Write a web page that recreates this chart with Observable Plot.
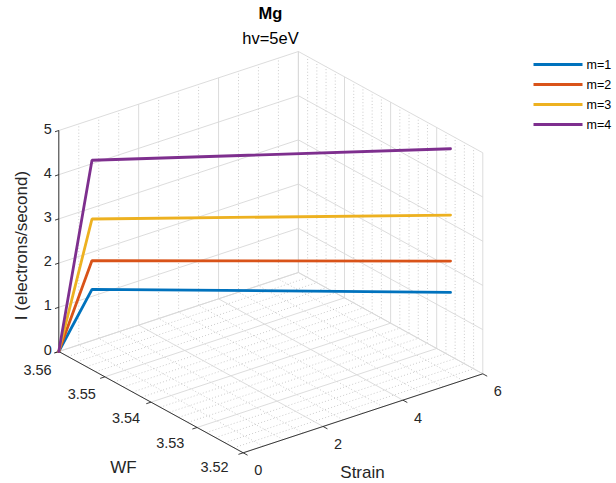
<!DOCTYPE html>
<html><head><meta charset="utf-8">
<script src="https://cdn.jsdelivr.net/npm/d3@7"></script>
<script src="https://cdn.jsdelivr.net/npm/@observablehq/plot@0.6"></script>
<style>html,body{margin:0;padding:0;background:#fff;}</style>
</head><body><div id="chart"></div>
<script>
// ---- data ----
const title = "Mg";
const subtitle = "hv=5eV";
const series = ["m=1", "m=2", "m=3", "m=4"];
const colors = ["#0072BD", "#D95319", "#EDB120", "#7E2F8E"];
const strain = [0, 0, 6];
const wf = [3.56, 3.5528, 3.527];
const I_m1 = [0, 1.82, 1.44];
const I_m2 = [0, 2.47, 2.15];
const I_m3 = [0, 3.41, 3.19];
const I_m4 = [0, 4.74, 4.69];
const strainTicks = [0, 2, 4, 6];
const strainTickLabels = ["0", "2", "4", "6"];
const wfTicks = [3.52, 3.53, 3.54, 3.55, 3.56];
const wfTickLabels = ["3.52", "3.53", "3.54", "3.55", "3.56"];
const iTicks = [0, 1, 2, 3, 4, 5];
const iTickLabels = ["0", "1", "2", "3", "4", "5"];
const xLabel = "Strain", yLabel = "WF", zLabel = "I (electrons/second)";
const strainDomain = [0, 6], wfDomain = [3.52, 3.56], iDomain = [0, 5];
const strainMinorStep = 0.5, wfMinorStep = 0.002;

// ---- 3D view (orthographic projection) ----
const origin = [58.3, 351];      // screen point of (strain min, WF max, I min)
const vS = [239.6, -79];         // full strain range
const vW = [184.4, 101.3];       // full WF range, from max toward min
const vI = [0, -221];            // full I range
const fs = d3.scaleLinear(strainDomain, [0, 1]);
const fw = d3.scaleLinear([wfDomain[1], wfDomain[0]], [0, 1]);
const fi = d3.scaleLinear(iDomain, [0, 1]);
function P(s, w, i) {
  const a = fs(s), b = fw(w), c = fi(i);
  return [origin[0] + a * vS[0] + b * vW[0] + c * vI[0],
          origin[1] + a * vS[1] + b * vW[1] + c * vI[1]];
}
function seg(p, q, extra = {}) { return {x1: p[0], y1: p[1], x2: q[0], y2: q[1], ...extra}; }
const unit = v => { const l = Math.hypot(v[0], v[1]); return [v[0] / l, v[1] / l]; };

const [s0, s1] = strainDomain, [w0, w1] = wfDomain, [i0, i1] = iDomain;
const near = (a, arr) => arr.some(t => Math.abs(t - a) < 1e-9);
const sMinor = d3.range(s0, s1 + 1e-9, strainMinorStep).filter(v => !near(v, strainTicks));
const wMinor = d3.range(0, Math.round((w1 - w0) / wfMinorStep) + 1).map(k => +(w0 + k * wfMinorStep).toFixed(4)).filter(v => !near(v, wfTicks));

const majorGrid = [], minorGrid = [];
// floor
strainTicks.forEach(s => majorGrid.push(seg(P(s, w0, i0), P(s, w1, i0))));
wfTicks.forEach(w => majorGrid.push(seg(P(s0, w, i0), P(s1, w, i0))));
sMinor.forEach(s => minorGrid.push(seg(P(s, w0, i0), P(s, w1, i0))));
wMinor.forEach(w => minorGrid.push(seg(P(s0, w, i0), P(s1, w, i0))));
// back-left wall (WF = max)
strainTicks.forEach(s => majorGrid.push(seg(P(s, w1, i0), P(s, w1, i1))));
sMinor.forEach(s => minorGrid.push(seg(P(s, w1, i0), P(s, w1, i1))));
iTicks.forEach(i => majorGrid.push(seg(P(s0, w1, i), P(s1, w1, i))));
// back-right wall (strain = max)
wfTicks.forEach(w => majorGrid.push(seg(P(s1, w, i0), P(s1, w, i1))));
wMinor.forEach(w => minorGrid.push(seg(P(s1, w, i0), P(s1, w, i1))));
iTicks.forEach(i => majorGrid.push(seg(P(s1, w0, i), P(s1, w1, i))));

// axes + ticks
const axes = [
  seg(P(s0, w1, i0), P(s0, w1, i1)),
  seg(P(s0, w0, i0), P(s0, w1, i0)),
  seg(P(s0, w0, i0), P(s1, w0, i0))
];
const tl = 5;
const dOutS = unit(vW);                      // strain ticks point toward viewer
const dOutW = unit([-vS[0], -vS[1]]);        // WF ticks point left
const dOutI = unit([-vS[0], -vS[1]]);
strainTicks.forEach(s => { const p = P(s, w0, i0); axes.push(seg(p, [p[0] + dOutS[0] * tl, p[1] + dOutS[1] * tl])); });
wfTicks.forEach(w => { const p = P(s0, w, i0); axes.push(seg(p, [p[0] + dOutW[0] * tl, p[1] + dOutW[1] * tl])); });
iTicks.forEach(i => { const p = P(s0, w1, i); axes.push(seg(p, [p[0] + dOutI[0] * 4, p[1] + dOutI[1] * 4])); });

// tick labels
const labels = [];
strainTicks.forEach((s, k) => { const p = P(s, w0, i0); labels.push({x: p[0] + 15, y: p[1] + 18, t: strainTickLabels[k], a: "middle"}); });
wfTicks.forEach((w, k) => { const p = P(s0, w, i0), b = fw(w); labels.push({x: p[0] - 21.3 - 7.4 * b, y: p[1] + 19 - 4.6 * b, t: wfTickLabels[k], a: "middle"}); });
iTicks.forEach((i, k) => { const p = P(s0, w1, i); labels.push({x: p[0] - 11, y: p[1] - 1.5, t: iTickLabels[k], a: "end"}); });

// data lines
const Iseries = [I_m1, I_m2, I_m3, I_m4];
const rows = [];
series.forEach((name, k) => strain.forEach((s, j) => {
  const p = P(s, wf[j], Iseries[k][j]);
  rows.push({series: name, px: p[0], py: p[1]});
}));

// legend
const legend = series.map((name, k) => ({series: name, x1: 533, x2: 582, y: 64 + 20 * k, tx: 586}));

const font = "'Liberation Sans', Arial, Helvetica, sans-serif";
const plot = Plot.plot({
  width: 616, height: 483, margin: 0,
  x: {domain: [0, 616], range: [0, 616], axis: null},
  y: {domain: [0, 483], range: [0, 483], axis: null},
  color: {domain: series, range: colors},
  style: {fontFamily: font, background: "#fff", overflow: "visible"},
  marks: [
    Plot.link(minorGrid, {x1: "x1", y1: "y1", x2: "x2", y2: "y2", stroke: "#a9a9a9", strokeWidth: 0.6, strokeDasharray: "1,2.2"}),
    Plot.link(majorGrid, {x1: "x1", y1: "y1", x2: "x2", y2: "y2", stroke: "#d8d8d8", strokeWidth: 0.9}),
    Plot.link(axes, {x1: "x1", y1: "y1", x2: "x2", y2: "y2", stroke: "#262626", strokeWidth: 0.9}),
    Plot.line(rows, {x: "px", y: "py", z: "series", stroke: "series", strokeWidth: 2.8, strokeLinejoin: "miter"}),
    Plot.text(labels, {x: "x", y: "y", text: "t", textAnchor: "a", fontSize: 14.5, fill: "#262626"}),
    Plot.text([xLabel], {x: 362, y: 472, text: d => d, fontSize: 17, fill: "#262626"}),
    Plot.text([yLabel], {x: 123, y: 467, text: d => d, fontSize: 17, fill: "#262626"}),
    Plot.text([zLabel], {x: 21, y: 245, text: d => d, rotate: -90, fontSize: 17, fill: "#262626"}),
    Plot.text([title], {x: 270, y: 13.5, text: d => d, fontSize: 16.5, fontWeight: "bold", fill: "#000"}),
    Plot.text([subtitle], {x: 270, y: 38.5, text: d => d, fontSize: 16.5, fill: "#000"}),
    Plot.link(legend, {x1: "x1", x2: "x2", y1: "y", y2: "y", stroke: "series", strokeWidth: 2.8}),
    Plot.text(legend, {x: "tx", y: "y", text: "series", textAnchor: "start", fontSize: 12.5, fill: "#000"})
  ]
});
document.getElementById("chart").appendChild(plot);
</script>
</body></html>
